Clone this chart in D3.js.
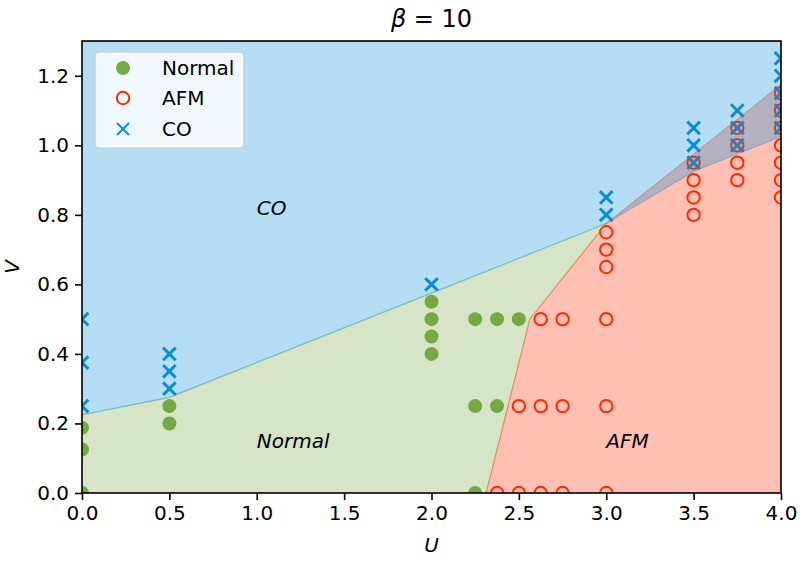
<!DOCTYPE html>
<html>
<head>
<meta charset="utf-8">
<script src="https://cdn.jsdelivr.net/npm/d3@7"></script>
<style>
html,body{margin:0;padding:0;background:#fff;}
svg{display:block;font-family:"DejaVu Sans",sans-serif;}
</style>
</head>
<body>
<svg id="chart" width="806" height="565"></svg>
<script>
// ---- data ----
const normalU = [0, 0, 0, 0.5, 0.5, 2.0, 2.0, 2.0, 2.0, 2.25, 2.375, 2.5, 2.25, 2.375, 2.25];
const normalV = [0, 0.125, 0.1875, 0.2, 0.25, 0.4, 0.45, 0.5, 0.55, 0.5, 0.5, 0.5, 0.25, 0.25, 0];

const afmU = [2.625, 2.75, 3.0, 2.5, 2.625, 2.75, 3.0, 2.375, 2.5, 2.625, 2.75, 3.0,
              3.0, 3.0, 3.0, 3.5, 3.5, 3.5, 3.5, 3.75, 3.75, 3.75, 3.75,
              4.0, 4.0, 4.0, 4.0, 4.0, 4.0, 4.0];
const afmV = [0.5, 0.5, 0.5, 0.25, 0.25, 0.25, 0.25, 0, 0, 0, 0, 0,
              0.65, 0.7, 0.75, 0.8, 0.85, 0.9, 0.95, 0.9, 0.95, 1.0, 1.05,
              0.85, 0.9, 0.95, 1.0, 1.05, 1.1, 1.15];

const coU = [0, 0, 0, 0.5, 0.5, 0.5, 2.0, 3.0, 3.0, 3.5, 3.5, 3.5, 3.75, 3.75, 3.75,
             4.0, 4.0, 4.0, 4.0, 4.0];
const coV = [0.25, 0.375, 0.5, 0.3, 0.35, 0.4, 0.6, 0.8, 0.85, 0.95, 1.0, 1.05, 1.0, 1.05, 1.1,
             1.05, 1.1, 1.15, 1.2, 1.25];

// phase boundaries
const coLowerU = [0, 0.5, 2.0, 3.0, 3.5, 3.75, 4.0];
const coLowerV = [0.225, 0.275, 0.575, 0.775, 0.925, 0.975, 1.025];
const afmUpperU = [2.3125, 2.4375, 2.5625, 3.0, 3.5, 3.75, 4.0];
const afmUpperV = [0, 0.25, 0.5, 0.775, 0.975, 1.075, 1.175];

const xTicks = [0.0, 0.5, 1.0, 1.5, 2.0, 2.5, 3.0, 3.5, 4.0];
const yTicks = [0.0, 0.2, 0.4, 0.6, 0.8, 1.0, 1.2];
const phaseLabels = ["CO", "Normal", "AFM"];
const phaseLabelU = [1.0, 1.0, 3.0];
const phaseLabelV = [0.8, 0.13, 0.13];
const legendNames = ["Normal", "AFM", "CO"];

// ---- styling ----
const cGreen = "#76aa44", cRed = "#ff2a00", cBlue = "#0a8ed6";
const mLeft = 82, mRight = 781, mTop = 41, mBottom = 493;

const svg = d3.select("#chart");
const x = d3.scaleLinear().domain([0, 4]).range([mLeft, mRight]);
const y = d3.scaleLinear().domain([0, 1.3]).range([mBottom, mTop]);

svg.append("defs").append("clipPath").attr("id", "clip")
  .append("rect").attr("x", mLeft).attr("y", mTop).attr("width", mRight - mLeft).attr("height", mBottom - mTop);

const plot = svg.append("g").attr("clip-path", "url(#clip)");
const line = d3.line().x(d => x(d[0])).y(d => y(d[1]));

// markers
const mg = plot.append("g");
normalU.forEach((u, i) => {
  mg.append("circle").attr("cx", x(u)).attr("cy", y(normalV[i])).attr("r", 7).attr("fill", cGreen);
});
afmU.forEach((u, i) => {
  mg.append("circle").attr("cx", x(u)).attr("cy", y(afmV[i])).attr("r", 6.2)
    .attr("fill", "none").attr("stroke", cRed).attr("stroke-width", 2);
});
coU.forEach((u, i) => {
  const cx = x(u), cy = y(coV[i]), s = 6.3;
  mg.append("path").attr("d", `M${cx - s},${cy - s}L${cx + s},${cy + s}M${cx - s},${cy + s}L${cx + s},${cy - s}`)
    .attr("stroke", cBlue).attr("stroke-width", 3).attr("fill", "none");
});

// phase regions (drawn translucent on top)
const coPoly = [[0, 1.3]].concat(coLowerU.map((u, i) => [u, coLowerV[i]])).concat([[4, 1.3]]);
const afmPoly = afmUpperU.map((u, i) => [u, afmUpperV[i]]).concat([[4, 0]]);
const normPoly = [[0, 0]]
  .concat(coLowerU.map((u, i) => [u, coLowerV[i]]).filter(p => p[0] <= 3))
  .concat(afmUpperU.map((u, i) => [u, afmUpperV[i]]).filter(p => p[0] < 3).reverse());

function region(poly, col) {
  plot.append("path").attr("d", line(poly) + "Z")
    .attr("fill", col).attr("fill-opacity", 0.3)
    .attr("stroke", col).attr("stroke-opacity", 0.3).attr("stroke-width", 1.2);
}
region(normPoly, cGreen);
region(afmPoly, cRed);
region(coPoly, cBlue);

// phase labels
phaseLabels.forEach((t, i) => {
  svg.append("text").attr("x", x(phaseLabelU[i])).attr("y", y(phaseLabelV[i]))
    .attr("font-size", 20).attr("font-style", "italic").attr("fill", "#000").text(t);
});

// axes
const xAxis = svg.append("g").attr("transform", `translate(0,${mBottom})`)
  .call(d3.axisBottom(x).tickValues(xTicks).tickFormat(d3.format(".1f")).tickSizeOuter(0).tickSize(7).tickPadding(6));
const yAxis = svg.append("g").attr("transform", `translate(${mLeft},0)`)
  .call(d3.axisLeft(y).tickValues(yTicks).tickFormat(d3.format(".1f")).tickSizeOuter(0).tickSize(7).tickPadding(6));
[xAxis, yAxis].forEach(a => {
  a.select(".domain").remove();
  a.selectAll("line").attr("stroke", "#000").attr("stroke-width", 1.6);
  a.selectAll("text").attr("font-size", 20).attr("font-family", "DejaVu Sans").attr("fill", "#000");
});

// frame
svg.append("rect").attr("x", mLeft).attr("y", mTop).attr("width", mRight - mLeft).attr("height", mBottom - mTop)
  .attr("fill", "none").attr("stroke", "#000").attr("stroke-width", 1.6);

// axis labels
svg.append("text").attr("x", (mLeft + mRight) / 2).attr("y", 552).attr("text-anchor", "middle")
  .attr("font-size", 20).attr("font-style", "italic").text("U");
svg.append("text").attr("transform", `translate(19,${(mTop + mBottom) / 2}) rotate(-90)`).attr("text-anchor", "middle")
  .attr("font-size", 20).attr("font-style", "italic").text("V");

// title
const title = svg.append("text").attr("x", (mLeft + mRight) / 2).attr("y", 27).attr("text-anchor", "middle")
  .attr("font-size", 24);
title.append("tspan").attr("font-style", "italic").text("β");
title.append("tspan").text(" = 10");

// legend
const lg = svg.append("g");
lg.append("rect").attr("x", 95).attr("y", 52).attr("width", 149).attr("height", 96).attr("rx", 4)
  .attr("fill", "#fff").attr("fill-opacity", 0.8).attr("stroke", "#ccc").attr("stroke-opacity", 0.8).attr("stroke-width", 1.6);
const rowY = [68, 98, 129];
legendNames.forEach((n, i) => {
  const cy = rowY[i], cx = 123;
  if (i === 0) lg.append("circle").attr("cx", cx).attr("cy", cy).attr("r", 7).attr("fill", cGreen);
  if (i === 1) lg.append("circle").attr("cx", cx).attr("cy", cy).attr("r", 6.2).attr("fill", "none").attr("stroke", cRed).attr("stroke-width", 2);
  if (i === 2) lg.append("path").attr("d", `M${cx - 6},${cy - 6}L${cx + 6},${cy + 6}M${cx - 6},${cy + 6}L${cx + 6},${cy - 6}`)
    .attr("stroke", cBlue).attr("stroke-width", 2);
  lg.append("text").attr("x", 162).attr("y", cy + 7).attr("font-size", 20).text(n);
});
</script>
</body>
</html>
